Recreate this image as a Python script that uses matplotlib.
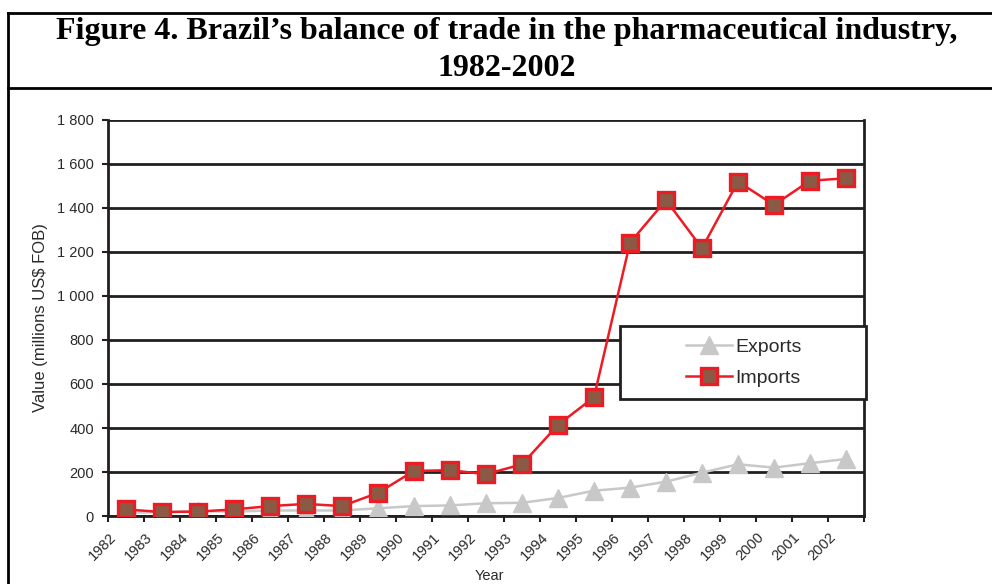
import matplotlib
matplotlib.use("Agg")
import matplotlib.pyplot as plt
from matplotlib.lines import Line2D
from matplotlib.patches import Rectangle
from matplotlib.transforms import ScaledTranslation
import numpy as np

years = [str(y) for y in range(1982, 2003)]
exports = [15, 18, 22, 20, 25, 25, 25, 35, 45, 48, 58, 60, 82, 115, 129, 156, 197, 235, 220, 240, 259]
imports = [30, 18, 20, 30, 45, 55, 45, 105, 205, 208, 190, 235, 414, 540, 1242, 1436, 1217, 1520, 1414, 1524, 1535]
yticks = list(range(0, 2000, 200))
ytick_labels = ["0", "200", "400", "600", "800", "1 000", "1 200", "1 400", "1 600", "1 800"]

W, H = 992, 584
fig = plt.figure(figsize=(W / 100, H / 100), dpi=100)
fig.patch.set_facecolor("white")

def fx(px):
    return px / W

def fy(py):
    return 1 - py / H

dark = "#231f20"
txtc = "#2a2a2a"
ax = fig.add_axes([fx(108), fy(516), fx(864) - fx(108), fy(120) - fy(516)])
x = np.arange(len(years))

ax.plot(x, exports, color="#c8c8c8", lw=1.8, marker="^", ms=13, mfc="#c8c8c8",
        mec="#c8c8c8", zorder=3, label="Exports")
ax.plot(x, imports, color="#ed1c24", lw=1.8, marker="s", ms=12, mfc="#8b5a44",
        mec="#ed1c24", mew=2.4, zorder=4, label="Imports")

ax.set_xlim(-0.5, len(years) - 0.5)
ax.set_ylim(0, 1800)
ax.set_yticks(yticks)
ax.set_yticklabels(ytick_labels, fontsize=10.5, color=txtc, family="Liberation Sans")
ax.yaxis.grid(True, color=dark, lw=2)
ax.set_axisbelow(True)

# x tick marks at category boundaries, year labels drawn as rotated text
ax.set_xticks(np.arange(-0.5, len(years), 1))
ax.set_xticklabels([])
ax.tick_params(axis="x", length=4, width=1.5, color=dark, direction="out")
ax.tick_params(axis="y", length=4, width=1.5, color=dark, direction="out", pad=6)
lab_tr = ax.get_xaxis_transform() + ScaledTranslation(-0.17, -0.14, fig.dpi_scale_trans)
for xi, yr in zip(x, years):
    ax.text(xi, 0, yr, transform=lab_tr, rotation=45, rotation_mode="anchor",
            ha="right", va="top", fontsize=10.5, color=txtc, family="Liberation Sans",
            clip_on=False)

for s in ["left", "right", "bottom"]:
    ax.spines[s].set_color(dark)
    ax.spines[s].set_linewidth(2)
ax.spines["top"].set_visible(False)

ax.set_ylabel("Value (millions US$ FOB)", fontsize=12, color=txtc,
              family="Liberation Sans")
ax.yaxis.set_label_coords(-0.08, 0.5)
ax.set_xlabel("Year", fontsize=10.5, color=txtc, family="Liberation Sans")
ax.xaxis.set_label_coords(0.505, -0.135)

# Legend box
box = Rectangle((fx(620), fy(399)), fx(866) - fx(620), fy(326) - fy(399),
                transform=fig.transFigure, facecolor="white",
                edgecolor=dark, lw=2, zorder=5, clip_on=False)
ax.add_patch(box)
leg = ax.legend(loc="center left", bbox_to_anchor=(fx(668), (fy(326) + fy(399)) / 2),
                bbox_transform=fig.transFigure, frameon=False,
                handlelength=2.4, handletextpad=0.15, labelspacing=0.7,
                prop={"family": "Liberation Sans", "size": 14})
leg.set_zorder(6)
for t in leg.get_texts():
    t.set_color(txtc)

# Title
fig.text(fx(507), fy(32), "Figure 4. Brazil\u2019s balance of trade in the pharmaceutical industry,",
         ha="center", va="center", fontsize=23, fontweight="bold", family="Liberation Serif")
fig.text(fx(507), fy(68), "1982-2002", ha="center", va="center", fontsize=23,
         fontweight="bold", family="Liberation Serif")

# Outer borders
for xs, ys in [([8, 8], [13, 584]), ([8, 992], [13, 13]), ([8, 992], [88, 88])]:
    fig.add_artist(Line2D([fx(v) for v in xs], [fy(v) for v in ys], color="black", lw=2,
                          transform=fig.transFigure))

fig.savefig("out.png", dpi=100)
